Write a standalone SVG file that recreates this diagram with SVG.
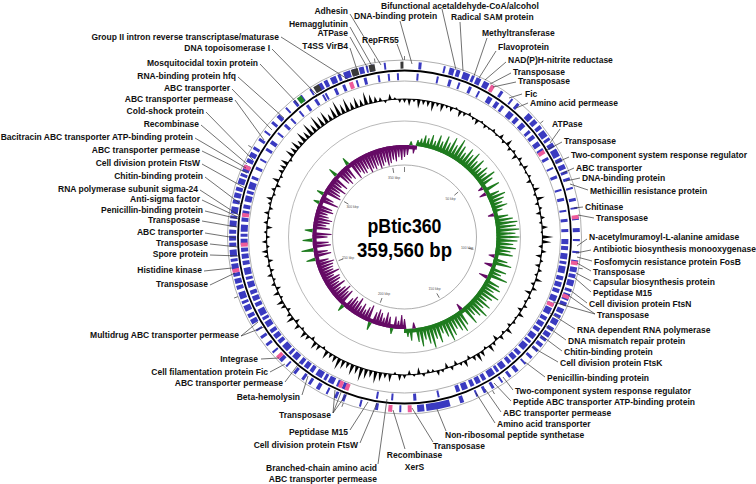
<svg xmlns="http://www.w3.org/2000/svg" width="756" height="484" viewBox="0 0 756 484">
<style>
text{font-family:"Liberation Sans",Arial,sans-serif;font-weight:700;font-size:8.5px;fill:#111}
.e{text-anchor:end}
.m{text-anchor:middle}
#connectors path{stroke:#333;stroke-width:.7;fill:none}
.gr{fill:none;stroke-width:7}
.ti{stroke:#444;stroke-width:.7;fill:none}
.rl{font-size:3.4px;font-weight:400;fill:#555;text-anchor:middle}
.ct{font-size:20px;text-anchor:middle;fill:#000}
</style>
<rect width="756" height="484" fill="#fff"/>
<g id="map" transform="translate(404.5 237)">
<circle r="177" fill="none" stroke="#999" stroke-width=".8"/>
<circle r="156" fill="none" stroke="#999" stroke-width=".8"/>
<circle class="gr" r="171.887" transform="rotate(-90)" stroke="#3a3ac0" stroke-dasharray="0 14 3 22 2 4 5 2 4 3 7 2 3 2 5 3 6 3 2 8 3 10 2 5 3 12 6 2 5 3 4 2 7 2 3 3 5 2 8 2 4 3 5 2 3 4 3 7 2 9 3 6 2 8 3 8 4 7 2 10 2 7 3 4 5 2 4 2 6 3 3 2 7 2 4 3 5 2 3 2 6 3 4 2 5 2 3 3 4 3 3 6 3 6 2 8 4 5 3 7 2 8 3 6 3 6 2 13 4 10 24 2 5 0 2 16 2 21 3 14 2 15 3 5 3 7 2 7 4 6 3 5 3 7 3 8 2 5 4 8 2 7 3 6 3 6 2 6 5 2 4 3 6 2 3 2 7 3 4 2 5 2 4 3 6 2 3 2 7 3 4 2 5 2 4 3 6 2 3 2 7 3 4 2 5 2 4 3 6 2 3 2 7 3 4 2 5 3 3 7 3 7 2 9 3 5 4 8 2 8 3 6 2 9 2 7 5 2 4 3 6 2 3 3 7 2 4 3 5 2 2 2 4 1 0 9 2 19"/>
<circle class="gr" r="160.428" transform="rotate(-90)" stroke="#3a3ac0" stroke-dasharray="0 12 2 18 2 10 3 7 2 9 3 7 2 9 5 4 4 3 3 6 6 3 4 4 5 5 3 3 4 4 5 3 3 7 3 8 2 7 3 11 2 7 3 9 2 7 3 7 3 7 5 2 4 3 6 2 3 2 7 3 4 2 5 2 4 3 6 2 3 2 7 3 4 2 5 2 4 3 6 2 3 2 7 3 4 2 5 2 4 3 6 2 3 2 7 3 4 2 5 2 4 3 6 2 2 0 2 17 2 21 3 20 2 13 2 30 5 2 4 3 6 2 3 2 7 3 4 2 5 2 4 3 6 2 3 2 7 3 4 2 5 2 4 3 6 2 3 2 7 3 4 2 5 2 4 3 6 2 3 2 7 3 4 2 5 2 4 3 6 2 3 2 7 3 4 2 5 2 4 3 6 2 3 2 7 3 3 7 3 7 2 9 3 5 4 8 2 8 3 6 2 9 2 7 3 7 3 6 2 1 2 8 3 6 3 11 2 6 3 11 2 8 2 7 2 8"/>
<circle class="gr" r="171.887" transform="rotate(-90)" stroke="#ee5b9a" stroke-dasharray="0 89 4 155 4 42 4 30.5 4 200 4 15.5 4 121 4 93 4 101 4 197"/>
<circle class="gr" r="160.428" transform="rotate(-90)" stroke="#ee5b9a" stroke-dasharray="0 162 4 153 4 237 4 3 4 175 4 25.6 4 172.4 4 52"/>
<circle class="gr" r="171.887" transform="rotate(-90)" stroke="#3a3a3a" stroke-dasharray="0 985.5 6 34.5 7 11 6 25.5 3 1.5"/>
<circle class="gr" r="171.887" transform="rotate(-90)" stroke="#1e8a2a" stroke-dasharray="0 966 5 109"/>
<circle r="166.5" fill="none" stroke="#000" stroke-width="1.8"/>
<path class="ti" d="M0-177v-4"/><path class="ti" d="M0-177v-4" transform="rotate(50.06)"/><path class="ti" d="M0-177v-4" transform="rotate(100.12)"/><path class="ti" d="M0-177v-4" transform="rotate(150.18)"/><path class="ti" d="M0-177v-4" transform="rotate(200.24)"/><path class="ti" d="M0-177v-4" transform="rotate(250.3)"/><path class="ti" d="M0-177v-4" transform="rotate(300.37)"/><path class="ti" d="M0-177v-4" transform="rotate(350.43)"/>
<circle r="138" fill="none" stroke="#000" stroke-width="1.1"/>
<g id="gc" fill="#000">
<path d="M-1.8-138L0-134 1.8-138z"/>
<path transform="rotate(2)" d="M-1.8-138L0-131 1.8-138z"/>
<path transform="rotate(4)" d="M-1.8-138L0-135 1.8-138z"/>
<path transform="rotate(6)" d="M-1.8-138L0-129 1.8-138z"/>
<path transform="rotate(8)" d="M-1.8-138L0-133 1.8-138z"/>
<path transform="rotate(10)" d="M-1.8-138L0-132 1.8-138z"/>
<path transform="rotate(12)" d="M-1.8-138L0-128 1.8-138z"/>
<path transform="rotate(14)" d="M-1.8-138L0-134 1.8-138z"/>
<path transform="rotate(16)" d="M-1.8-138L0-130 1.8-138z"/>
<path transform="rotate(18)" d="M-1.8-138L0-135 1.8-138z"/>
<path transform="rotate(20)" d="M-1.8-138L0-133 1.8-138z"/>
<path transform="rotate(22)" d="M-1.8-138L0-140 1.8-138z"/>
<path transform="rotate(24)" d="M-1.8-138L0-131 1.8-138z"/>
<path transform="rotate(26)" d="M-1.8-138L0-134 1.8-138z"/>
<path transform="rotate(28)" d="M-1.8-138L0-141 1.8-138z"/>
<path transform="rotate(30)" d="M-1.8-138L0-135 1.8-138z"/>
<path transform="rotate(32)" d="M-1.8-138L0-132 1.8-138z"/>
<path transform="rotate(34)" d="M-1.8-138L0-140 1.8-138z"/>
<path transform="rotate(36)" d="M-1.8-138L0-134 1.8-138z"/>
<path transform="rotate(38)" d="M-1.8-138L0-136 1.8-138z"/>
<path transform="rotate(40)" d="M-1.8-138L0-141 1.8-138z"/>
<path transform="rotate(42)" d="M-1.8-138L0-136 1.8-138z"/>
<path transform="rotate(44)" d="M-1.8-138L0-143 1.8-138z"/>
<path transform="rotate(46)" d="M-1.8-138L0-135 1.8-138z"/>
<path transform="rotate(48)" d="M-1.8-138L0-145 1.8-138z"/>
<path transform="rotate(50)" d="M-1.8-138L0-134 1.8-138z"/>
<path transform="rotate(52)" d="M-1.8-138L0-141 1.8-138z"/>
<path transform="rotate(54)" d="M-1.8-138L0-132 1.8-138z"/>
<path transform="rotate(56)" d="M-1.8-138L0-142 1.8-138z"/>
<path transform="rotate(58)" d="M-1.8-138L0-135 1.8-138z"/>
<path transform="rotate(60)" d="M-1.8-138L0-143 1.8-138z"/>
<path transform="rotate(62)" d="M-1.8-138L0-136 1.8-138z"/>
<path transform="rotate(64)" d="M-1.8-138L0-141 1.8-138z"/>
<path transform="rotate(66)" d="M-1.8-138L0-133 1.8-138z"/>
<path transform="rotate(68)" d="M-1.8-138L0-140 1.8-138z"/>
<path transform="rotate(70)" d="M-1.8-138L0-144 1.8-138z"/>
<path transform="rotate(72)" d="M-1.8-138L0-135 1.8-138z"/>
<path transform="rotate(74)" d="M-1.8-138L0-146 1.8-138z"/>
<path transform="rotate(76)" d="M-1.8-138L0-134 1.8-138z"/>
<path transform="rotate(78)" d="M-1.8-138L0-141 1.8-138z"/>
<path transform="rotate(80)" d="M-1.8-138L0-133 1.8-138z"/>
<path transform="rotate(82)" d="M-1.8-138L0-142 1.8-138z"/>
<path transform="rotate(84)" d="M-1.8-138L0-135 1.8-138z"/>
<path transform="rotate(86)" d="M-1.8-138L0-144 1.8-138z"/>
<path transform="rotate(88)" d="M-1.8-138L0-136 1.8-138z"/>
<path transform="rotate(90)" d="M-1.8-138L0-149 1.8-138z"/>
<path transform="rotate(92)" d="M-1.8-138L0-147 1.8-138z"/>
<path transform="rotate(94)" d="M-1.8-138L0-134 1.8-138z"/>
<path transform="rotate(96)" d="M-1.8-138L0-143 1.8-138z"/>
<path transform="rotate(98)" d="M-1.8-138L0-132 1.8-138z"/>
<path transform="rotate(100)" d="M-1.8-138L0-141 1.8-138z"/>
<path transform="rotate(102)" d="M-1.8-138L0-133 1.8-138z"/>
<path transform="rotate(104)" d="M-1.8-138L0-142 1.8-138z"/>
<path transform="rotate(106)" d="M-1.8-138L0-135 1.8-138z"/>
<path transform="rotate(108)" d="M-1.8-138L0-145 1.8-138z"/>
<path transform="rotate(110)" d="M-1.8-138L0-134 1.8-138z"/>
<path transform="rotate(112)" d="M-1.8-138L0-143 1.8-138z"/>
<path transform="rotate(114)" d="M-1.8-138L0-131 1.8-138z"/>
<path transform="rotate(116)" d="M-1.8-138L0-141 1.8-138z"/>
<path transform="rotate(118)" d="M-1.8-138L0-135 1.8-138z"/>
<path transform="rotate(120)" d="M-1.8-138L0-142 1.8-138z"/>
<path transform="rotate(122)" d="M-1.8-138L0-133 1.8-138z"/>
<path transform="rotate(124)" d="M-1.8-138L0-144 1.8-138z"/>
<path transform="rotate(126)" d="M-1.8-138L0-136 1.8-138z"/>
<path transform="rotate(128)" d="M-1.8-138L0-141 1.8-138z"/>
<path transform="rotate(130)" d="M-1.8-138L0-134 1.8-138z"/>
<path transform="rotate(132)" d="M-1.8-138L0-145 1.8-138z"/>
<path transform="rotate(134)" d="M-1.8-138L0-135 1.8-138z"/>
<path transform="rotate(136)" d="M-1.8-138L0-143 1.8-138z"/>
<path transform="rotate(138)" d="M-1.8-138L0-132 1.8-138z"/>
<path transform="rotate(140)" d="M-1.8-138L0-142 1.8-138z"/>
<path transform="rotate(142)" d="M-1.8-138L0-146 1.8-138z"/>
<path transform="rotate(144)" d="M-1.8-138L0-135 1.8-138z"/>
<path transform="rotate(146)" d="M-1.8-138L0-144 1.8-138z"/>
<path transform="rotate(148)" d="M-1.8-138L0-147 1.8-138z"/>
<path transform="rotate(150)" d="M-1.8-138L0-143 1.8-138z"/>
<path transform="rotate(152)" d="M-1.8-138L0-134 1.8-138z"/>
<path transform="rotate(154)" d="M-1.8-138L0-145 1.8-138z"/>
<path transform="rotate(156)" d="M-1.8-138L0-141 1.8-138z"/>
<path transform="rotate(158)" d="M-1.8-138L0-133 1.8-138z"/>
<path transform="rotate(160)" d="M-1.8-138L0-142 1.8-138z"/>
<path transform="rotate(162)" d="M-1.8-138L0-132 1.8-138z"/>
<path transform="rotate(164)" d="M-1.8-138L0-141 1.8-138z"/>
<path transform="rotate(166)" d="M-1.8-138L0-143 1.8-138z"/>
<path transform="rotate(168)" d="M-1.8-138L0-135 1.8-138z"/>
<path transform="rotate(170)" d="M-1.8-138L0-134 1.8-138z"/>
<path transform="rotate(172)" d="M-1.8-138L0-141 1.8-138z"/>
<path transform="rotate(174)" d="M-1.8-138L0-131 1.8-138z"/>
<path transform="rotate(176)" d="M-1.8-138L0-140 1.8-138z"/>
<path transform="rotate(178)" d="M-1.8-138L0-133 1.8-138z"/>
<path transform="rotate(180)" d="M-1.8-138L0-142 1.8-138z"/>
<path transform="rotate(182)" d="M-1.8-138L0-144 1.8-138z"/>
<path transform="rotate(184)" d="M-1.8-138L0-135 1.8-138z"/>
<path transform="rotate(186)" d="M-1.8-138L0-146 1.8-138z"/>
<path transform="rotate(188)" d="M-1.8-138L0-143 1.8-138z"/>
<path transform="rotate(190)" d="M-1.8-138L0-147 1.8-138z"/>
<path transform="rotate(192)" d="M-1.8-138L0-150 1.8-138z"/>
<path transform="rotate(194)" d="M-1.8-138L0-145 1.8-138z"/>
<path transform="rotate(196)" d="M-1.8-138L0-148 1.8-138z"/>
<path transform="rotate(198)" d="M-1.8-138L0-152 1.8-138z"/>
<path transform="rotate(200)" d="M-1.8-138L0-146 1.8-138z"/>
<path transform="rotate(202)" d="M-1.8-138L0-149 1.8-138z"/>
<path transform="rotate(204)" d="M-1.8-138L0-144 1.8-138z"/>
<path transform="rotate(206)" d="M-1.8-138L0-147 1.8-138z"/>
<path transform="rotate(208)" d="M-1.8-138L0-150 1.8-138z"/>
<path transform="rotate(210)" d="M-1.8-138L0-145 1.8-138z"/>
<path transform="rotate(212)" d="M-1.8-138L0-143 1.8-138z"/>
<path transform="rotate(214)" d="M-1.8-138L0-147 1.8-138z"/>
<path transform="rotate(216)" d="M-1.8-138L0-135 1.8-138z"/>
<path transform="rotate(218)" d="M-1.8-138L0-144 1.8-138z"/>
<path transform="rotate(220)" d="M-1.8-138L0-146 1.8-138z"/>
<path transform="rotate(222)" d="M-1.8-138L0-134 1.8-138z"/>
<path transform="rotate(224)" d="M-1.8-138L0-143 1.8-138z"/>
<path transform="rotate(226)" d="M-1.8-138L0-145 1.8-138z"/>
<path transform="rotate(228)" d="M-1.8-138L0-135 1.8-138z"/>
<path transform="rotate(230)" d="M-1.8-138L0-144 1.8-138z"/>
<path transform="rotate(232)" d="M-1.8-138L0-133 1.8-138z"/>
<path transform="rotate(234)" d="M-1.8-138L0-146 1.8-138z"/>
<path transform="rotate(236)" d="M-1.8-138L0-142 1.8-138z"/>
<path transform="rotate(238)" d="M-1.8-138L0-134 1.8-138z"/>
<path transform="rotate(240)" d="M-1.8-138L0-143 1.8-138z"/>
<path transform="rotate(242)" d="M-1.8-138L0-145 1.8-138z"/>
<path transform="rotate(244)" d="M-1.8-138L0-135 1.8-138z"/>
<path transform="rotate(246)" d="M-1.8-138L0-144 1.8-138z"/>
<path transform="rotate(248)" d="M-1.8-138L0-133 1.8-138z"/>
<path transform="rotate(250)" d="M-1.8-138L0-142 1.8-138z"/>
<path transform="rotate(252)" d="M-1.8-138L0-135 1.8-138z"/>
<path transform="rotate(254)" d="M-1.8-138L0-143 1.8-138z"/>
<path transform="rotate(256)" d="M-1.8-138L0-134 1.8-138z"/>
<path transform="rotate(258)" d="M-1.8-138L0-141 1.8-138z"/>
<path transform="rotate(260)" d="M-1.8-138L0-133 1.8-138z"/>
<path transform="rotate(262)" d="M-1.8-138L0-142 1.8-138z"/>
<path transform="rotate(264)" d="M-1.8-138L0-144 1.8-138z"/>
<path transform="rotate(266)" d="M-1.8-138L0-135 1.8-138z"/>
<path transform="rotate(268)" d="M-1.8-138L0-143 1.8-138z"/>
<path transform="rotate(270)" d="M-1.8-138L0-134 1.8-138z"/>
<path transform="rotate(272)" d="M-1.8-138L0-141 1.8-138z"/>
<path transform="rotate(274)" d="M-1.8-138L0-132 1.8-138z"/>
<path transform="rotate(276)" d="M-1.8-138L0-142 1.8-138z"/>
<path transform="rotate(278)" d="M-1.8-138L0-135 1.8-138z"/>
<path transform="rotate(280)" d="M-1.8-138L0-143 1.8-138z"/>
<path transform="rotate(282)" d="M-1.8-138L0-134 1.8-138z"/>
<path transform="rotate(284)" d="M-1.8-138L0-141 1.8-138z"/>
<path transform="rotate(286)" d="M-1.8-138L0-144 1.8-138z"/>
<path transform="rotate(288)" d="M-1.8-138L0-135 1.8-138z"/>
<path transform="rotate(290)" d="M-1.8-138L0-142 1.8-138z"/>
<path transform="rotate(292)" d="M-1.8-138L0-133 1.8-138z"/>
<path transform="rotate(294)" d="M-1.8-138L0-145 1.8-138z"/>
<path transform="rotate(296)" d="M-1.8-138L0-135 1.8-138z"/>
<path transform="rotate(298)" d="M-1.8-138L0-143 1.8-138z"/>
<path transform="rotate(300)" d="M-1.8-138L0-144 1.8-138z"/>
<path transform="rotate(302)" d="M-1.8-138L0-146 1.8-138z"/>
<path transform="rotate(304)" d="M-1.8-138L0-135 1.8-138z"/>
<path transform="rotate(306)" d="M-1.8-138L0-147 1.8-138z"/>
<path transform="rotate(308)" d="M-1.8-138L0-145 1.8-138z"/>
<path transform="rotate(310)" d="M-1.8-138L0-148 1.8-138z"/>
<path transform="rotate(312)" d="M-1.8-138L0-144 1.8-138z"/>
<path transform="rotate(314)" d="M-1.8-138L0-150 1.8-138z"/>
<path transform="rotate(316)" d="M-1.8-138L0-146 1.8-138z"/>
<path transform="rotate(318)" d="M-1.8-138L0-152 1.8-138z"/>
<path transform="rotate(320)" d="M-1.8-138L0-147 1.8-138z"/>
<path transform="rotate(322)" d="M-1.8-138L0-153 1.8-138z"/>
<path transform="rotate(324)" d="M-1.8-138L0-149 1.8-138z"/>
<path transform="rotate(326)" d="M-1.8-138L0-151 1.8-138z"/>
<path transform="rotate(328)" d="M-1.8-138L0-145 1.8-138z"/>
<path transform="rotate(330)" d="M-1.8-138L0-150 1.8-138z"/>
<path transform="rotate(332)" d="M-1.8-138L0-154 1.8-138z"/>
<path transform="rotate(334)" d="M-1.8-138L0-148 1.8-138z"/>
<path transform="rotate(336)" d="M-1.8-138L0-152 1.8-138z"/>
<path transform="rotate(338)" d="M-1.8-138L0-146 1.8-138z"/>
<path transform="rotate(340)" d="M-1.8-138L0-149 1.8-138z"/>
<path transform="rotate(342)" d="M-1.8-138L0-145 1.8-138z"/>
<path transform="rotate(344)" d="M-1.8-138L0-151 1.8-138z"/>
<path transform="rotate(346)" d="M-1.8-138L0-147 1.8-138z"/>
<path transform="rotate(348)" d="M-1.8-138L0-144 1.8-138z"/>
<path transform="rotate(350)" d="M-1.8-138L0-142 1.8-138z"/>
<path transform="rotate(352)" d="M-1.8-138L0-135 1.8-138z"/>
<path transform="rotate(354)" d="M-1.8-138L0-144 1.8-138z"/>
<path transform="rotate(356)" d="M-1.8-138L0-140 1.8-138z"/>
<path transform="rotate(358)" d="M-1.8-138L0-134 1.8-138z"/>
</g>
<circle r="116" fill="none" stroke="#999" stroke-width=".7"/>
<circle r="94" fill="none" stroke="#1e7b1e" stroke-width="4" transform="rotate(-90)" stroke-dasharray="0 13.12 282.2 295.3"/>
<circle r="90" fill="none" stroke="#650a65" stroke-width="4" transform="rotate(-90)" stroke-dasharray="12.57 270.2 282.74 0"/>
<g id="skew-pos" fill="#1e7b1e">
<path transform="rotate(4)" d="M-1.9-92L-.5-96H.5L1.9-92z"/>
<path transform="rotate(8)" d="M-1.9-92L-.5-98H.5L1.9-92z"/>
<path transform="rotate(10)" d="M-1.9-92L-.5-100H.5L1.9-92z"/>
<path transform="rotate(12)" d="M-1.9-92L-.5-104H.5L1.9-92z"/>
<path transform="rotate(14)" d="M-1.9-92L-.5-102H.5L1.9-92z"/>
<path transform="rotate(16)" d="M-1.9-92L-.5-106H.5L1.9-92z"/>
<path transform="rotate(18)" d="M-1.9-92L-.5-101H.5L1.9-92z"/>
<path transform="rotate(20)" d="M-1.9-92L-.5-108H.5L1.9-92z"/>
<path transform="rotate(22)" d="M-1.9-92L-.5-103H.5L1.9-92z"/>
<path transform="rotate(24)" d="M-1.9-92L-.5-110H.5L1.9-92z"/>
<path transform="rotate(26)" d="M-1.9-92L-.5-105H.5L1.9-92z"/>
<path transform="rotate(28)" d="M-1.9-92L-.5-112H.5L1.9-92z"/>
<path transform="rotate(30)" d="M-1.9-92L-.5-106H.5L1.9-92z"/>
<path transform="rotate(32)" d="M-1.9-92L-.5-114H.5L1.9-92z"/>
<path transform="rotate(34)" d="M-1.9-92L-.5-109H.5L1.9-92z"/>
<path transform="rotate(36)" d="M-1.9-92L-.5-104H.5L1.9-92z"/>
<path transform="rotate(38)" d="M-1.9-92L-.5-111H.5L1.9-92z"/>
<path transform="rotate(40)" d="M-1.9-92L-.5-107H.5L1.9-92z"/>
<path transform="rotate(42)" d="M-1.9-92L-.5-112H.5L1.9-92z"/>
<path transform="rotate(44)" d="M-1.9-92L-.5-105H.5L1.9-92z"/>
<path transform="rotate(46)" d="M-1.9-92L-.5-110H.5L1.9-92z"/>
<path transform="rotate(48)" d="M-1.9-92L-.5-103H.5L1.9-92z"/>
<path transform="rotate(50)" d="M-1.9-92L-.5-108H.5L1.9-92z"/>
<path transform="rotate(52)" d="M-1.9-92L-.5-104H.5L1.9-92z"/>
<path transform="rotate(54)" d="M-1.9-92L-.5-111H.5L1.9-92z"/>
<path transform="rotate(56)" d="M-1.9-92L-.5-106H.5L1.9-92z"/>
<path transform="rotate(60)" d="M-1.9-92L-.5-109H.5L1.9-92z"/>
<path transform="rotate(64)" d="M-1.9-92L-.5-105H.5L1.9-92z"/>
<path transform="rotate(66)" d="M-1.9-92L-.5-110H.5L1.9-92z"/>
<path transform="rotate(68)" d="M-1.9-92L-.5-107H.5L1.9-92z"/>
<path transform="rotate(70)" d="M-1.9-92L-.5-104H.5L1.9-92z"/>
<path transform="rotate(72)" d="M-1.9-92L-.5-108H.5L1.9-92z"/>
<path transform="rotate(74)" d="M-1.9-92L-.5-102H.5L1.9-92z"/>
<path transform="rotate(78)" d="M-1.9-92L-.5-106H.5L1.9-92z"/>
<path transform="rotate(80)" d="M-1.9-92L-.5-110H.5L1.9-92z"/>
<path transform="rotate(82)" d="M-1.9-92L-.5-114H.5L1.9-92z"/>
<path transform="rotate(84)" d="M-1.9-92L-.5-112H.5L1.9-92z"/>
<path transform="rotate(86)" d="M-1.9-92L-.5-115H.5L1.9-92z"/>
<path transform="rotate(88)" d="M-1.9-92L-.5-111H.5L1.9-92z"/>
<path transform="rotate(90)" d="M-1.9-92L-.5-115H.5L1.9-92z"/>
<path transform="rotate(92)" d="M-1.9-92L-.5-113H.5L1.9-92z"/>
<path transform="rotate(94)" d="M-1.9-92L-.5-109H.5L1.9-92z"/>
<path transform="rotate(96)" d="M-1.9-92L-.5-112H.5L1.9-92z"/>
<path transform="rotate(98)" d="M-1.9-92L-.5-107H.5L1.9-92z"/>
<path transform="rotate(100)" d="M-1.9-92L-.5-110H.5L1.9-92z"/>
<path transform="rotate(104)" d="M-1.9-92L-.5-106H.5L1.9-92z"/>
<path transform="rotate(106)" d="M-1.9-92L-.5-111H.5L1.9-92z"/>
<path transform="rotate(110)" d="M-1.9-92L-.5-108H.5L1.9-92z"/>
<path transform="rotate(112)" d="M-1.9-92L-.5-104H.5L1.9-92z"/>
<path transform="rotate(114)" d="M-1.9-92L-.5-112H.5L1.9-92z"/>
<path transform="rotate(118)" d="M-1.9-92L-.5-107H.5L1.9-92z"/>
<path transform="rotate(120)" d="M-1.9-92L-.5-110H.5L1.9-92z"/>
<path transform="rotate(122)" d="M-1.9-92L-.5-105H.5L1.9-92z"/>
<path transform="rotate(124)" d="M-1.9-92L-.5-113H.5L1.9-92z"/>
<path transform="rotate(126)" d="M-1.9-92L-.5-108H.5L1.9-92z"/>
<path transform="rotate(128)" d="M-1.9-92L-.5-104H.5L1.9-92z"/>
<path transform="rotate(130)" d="M-1.9-92L-.5-111H.5L1.9-92z"/>
<path transform="rotate(132)" d="M-1.9-92L-.5-106H.5L1.9-92z"/>
<path transform="rotate(134)" d="M-1.9-92L-.5-114H.5L1.9-92z"/>
<path transform="rotate(136)" d="M-1.9-92L-.5-109H.5L1.9-92z"/>
<path transform="rotate(138)" d="M-1.9-92L-.5-105H.5L1.9-92z"/>
<path transform="rotate(140)" d="M-1.9-92L-.5-112H.5L1.9-92z"/>
<path transform="rotate(144)" d="M-1.9-92L-.5-108H.5L1.9-92z"/>
<path transform="rotate(146)" d="M-1.9-92L-.5-113H.5L1.9-92z"/>
<path transform="rotate(148)" d="M-1.9-92L-.5-110H.5L1.9-92z"/>
<path transform="rotate(150)" d="M-1.9-92L-.5-106H.5L1.9-92z"/>
<path transform="rotate(152)" d="M-1.9-92L-.5-111H.5L1.9-92z"/>
<path transform="rotate(154)" d="M-1.9-92L-.5-115H.5L1.9-92z"/>
<path transform="rotate(156)" d="M-1.9-92L-.5-109H.5L1.9-92z"/>
<path transform="rotate(158)" d="M-1.9-92L-.5-104H.5L1.9-92z"/>
<path transform="rotate(160)" d="M-1.9-92L-.5-112H.5L1.9-92z"/>
<path transform="rotate(162)" d="M-1.9-92L-.5-107H.5L1.9-92z"/>
<path transform="rotate(164)" d="M-1.9-92L-.5-115H.5L1.9-92z"/>
<path transform="rotate(166)" d="M-1.9-92L-.5-110H.5L1.9-92z"/>
<path transform="rotate(168)" d="M-1.9-92L-.5-105H.5L1.9-92z"/>
<path transform="rotate(170)" d="M-1.9-92L-.5-111H.5L1.9-92z"/>
<path transform="rotate(172)" d="M-1.9-92L-.5-106H.5L1.9-92z"/>
<path transform="rotate(176)" d="M-1.9-92L-.5-104H.5L1.9-92z"/>
<path transform="rotate(178)" d="M-1.9-92L-.5-100H.5L1.9-92z"/>
<path transform="rotate(188)" d="M-1.9-92L-.5-98H.5L1.9-92z"/>
<path transform="rotate(202)" d="M-1.9-92L-.5-100H.5L1.9-92z"/>
<path transform="rotate(222)" d="M-1.9-92L-.5-99H.5L1.9-92z"/>
<path transform="rotate(256)" d="M-1.9-92L-.5-101H.5L1.9-92z"/>
<path transform="rotate(262)" d="M-1.9-92L-.5-104H.5L1.9-92z"/>
<path transform="rotate(268)" d="M-1.9-92L-.5-102H.5L1.9-92z"/>
<path transform="rotate(274)" d="M-1.9-92L-.5-100H.5L1.9-92z"/>
<path transform="rotate(292)" d="M-1.9-92L-.5-98H.5L1.9-92z"/>
<path transform="rotate(298)" d="M-1.9-92L-.5-99H.5L1.9-92z"/>
<path transform="rotate(312)" d="M-1.9-92L-.5-101H.5L1.9-92z"/>
<path transform="rotate(322)" d="M-1.9-92L-.5-100H.5L1.9-92z"/>
</g>
<g id="skew-neg" fill="#650a65">
<path d="M-1.9-92L-.5-80H.5L1.9-92z"/>
<path transform="rotate(2)" d="M-1.9-92L-.5-82H.5L1.9-92z"/>
<path transform="rotate(6)" d="M-1.9-92L-.5-84H.5L1.9-92z"/>
<path transform="rotate(58)" d="M-1.9-92L-.5-87H.5L1.9-92z"/>
<path transform="rotate(62)" d="M-1.9-92L-.5-85H.5L1.9-92z"/>
<path transform="rotate(76)" d="M-1.9-92L-.5-86H.5L1.9-92z"/>
<path transform="rotate(102)" d="M-1.9-92L-.5-86H.5L1.9-92z"/>
<path transform="rotate(108)" d="M-1.9-92L-.5-84H.5L1.9-92z"/>
<path transform="rotate(116)" d="M-1.9-92L-.5-83H.5L1.9-92z"/>
<path transform="rotate(142)" d="M-1.9-92L-.5-85H.5L1.9-92z"/>
<path transform="rotate(174)" d="M-1.9-92L-.5-86H.5L1.9-92z"/>
<path transform="rotate(180)" d="M-1.9-92L-.5-82H.5L1.9-92z"/>
<path transform="rotate(182)" d="M-1.9-92L-.5-78H.5L1.9-92z"/>
<path transform="rotate(184)" d="M-1.9-92L-.5-84H.5L1.9-92z"/>
<path transform="rotate(186)" d="M-1.9-92L-.5-80H.5L1.9-92z"/>
<path transform="rotate(190)" d="M-1.9-92L-.5-81H.5L1.9-92z"/>
<path transform="rotate(192)" d="M-1.9-92L-.5-77H.5L1.9-92z"/>
<path transform="rotate(194)" d="M-1.9-92L-.5-83H.5L1.9-92z"/>
<path transform="rotate(196)" d="M-1.9-92L-.5-79H.5L1.9-92z"/>
<path transform="rotate(198)" d="M-1.9-92L-.5-76H.5L1.9-92z"/>
<path transform="rotate(200)" d="M-1.9-92L-.5-80H.5L1.9-92z"/>
<path transform="rotate(204)" d="M-1.9-92L-.5-75H.5L1.9-92z"/>
<path transform="rotate(206)" d="M-1.9-92L-.5-78H.5L1.9-92z"/>
<path transform="rotate(208)" d="M-1.9-92L-.5-82H.5L1.9-92z"/>
<path transform="rotate(210)" d="M-1.9-92L-.5-77H.5L1.9-92z"/>
<path transform="rotate(212)" d="M-1.9-92L-.5-81H.5L1.9-92z"/>
<path transform="rotate(214)" d="M-1.9-92L-.5-74H.5L1.9-92z"/>
<path transform="rotate(216)" d="M-1.9-92L-.5-79H.5L1.9-92z"/>
<path transform="rotate(218)" d="M-1.9-92L-.5-76H.5L1.9-92z"/>
<path transform="rotate(220)" d="M-1.9-92L-.5-80H.5L1.9-92z"/>
<path transform="rotate(224)" d="M-1.9-92L-.5-75H.5L1.9-92z"/>
<path transform="rotate(226)" d="M-1.9-92L-.5-78H.5L1.9-92z"/>
<path transform="rotate(228)" d="M-1.9-92L-.5-73H.5L1.9-92z"/>
<path transform="rotate(230)" d="M-1.9-92L-.5-77H.5L1.9-92z"/>
<path transform="rotate(232)" d="M-1.9-92L-.5-81H.5L1.9-92z"/>
<path transform="rotate(234)" d="M-1.9-92L-.5-74H.5L1.9-92z"/>
<path transform="rotate(236)" d="M-1.9-92L-.5-79H.5L1.9-92z"/>
<path transform="rotate(238)" d="M-1.9-92L-.5-76H.5L1.9-92z"/>
<path transform="rotate(240)" d="M-1.9-92L-.5-75H.5L1.9-92z"/>
<path transform="rotate(242)" d="M-1.9-92L-.5-80H.5L1.9-92z"/>
<path transform="rotate(244)" d="M-1.9-92L-.5-73H.5L1.9-92z"/>
<path transform="rotate(246)" d="M-1.9-92L-.5-78H.5L1.9-92z"/>
<path transform="rotate(248)" d="M-1.9-92L-.5-77H.5L1.9-92z"/>
<path transform="rotate(250)" d="M-1.9-92L-.5-76H.5L1.9-92z"/>
<path transform="rotate(252)" d="M-1.9-92L-.5-74H.5L1.9-92z"/>
<path transform="rotate(254)" d="M-1.9-92L-.5-79H.5L1.9-92z"/>
<path transform="rotate(258)" d="M-1.9-92L-.5-75H.5L1.9-92z"/>
<path transform="rotate(260)" d="M-1.9-92L-.5-78H.5L1.9-92z"/>
<path transform="rotate(264)" d="M-1.9-92L-.5-74H.5L1.9-92z"/>
<path transform="rotate(266)" d="M-1.9-92L-.5-76H.5L1.9-92z"/>
<path transform="rotate(270)" d="M-1.9-92L-.5-77H.5L1.9-92z"/>
<path transform="rotate(272)" d="M-1.9-92L-.5-73H.5L1.9-92z"/>
<path transform="rotate(276)" d="M-1.9-92L-.5-75H.5L1.9-92z"/>
<path transform="rotate(278)" d="M-1.9-92L-.5-79H.5L1.9-92z"/>
<path transform="rotate(280)" d="M-1.9-92L-.5-76H.5L1.9-92z"/>
<path transform="rotate(282)" d="M-1.9-92L-.5-74H.5L1.9-92z"/>
<path transform="rotate(284)" d="M-1.9-92L-.5-78H.5L1.9-92z"/>
<path transform="rotate(286)" d="M-1.9-92L-.5-80H.5L1.9-92z"/>
<path transform="rotate(288)" d="M-1.9-92L-.5-75H.5L1.9-92z"/>
<path transform="rotate(290)" d="M-1.9-92L-.5-77H.5L1.9-92z"/>
<path transform="rotate(294)" d="M-1.9-92L-.5-73H.5L1.9-92z"/>
<path transform="rotate(296)" d="M-1.9-92L-.5-79H.5L1.9-92z"/>
<path transform="rotate(300)" d="M-1.9-92L-.5-74H.5L1.9-92z"/>
<path transform="rotate(302)" d="M-1.9-92L-.5-76H.5L1.9-92z"/>
<path transform="rotate(304)" d="M-1.9-92L-.5-78H.5L1.9-92z"/>
<path transform="rotate(306)" d="M-1.9-92L-.5-73H.5L1.9-92z"/>
<path transform="rotate(308)" d="M-1.9-92L-.5-80H.5L1.9-92z"/>
<path transform="rotate(310)" d="M-1.9-92L-.5-75H.5L1.9-92z"/>
<path transform="rotate(314)" d="M-1.9-92L-.5-77H.5L1.9-92z"/>
<path transform="rotate(316)" d="M-1.9-92L-.5-74H.5L1.9-92z"/>
<path transform="rotate(318)" d="M-1.9-92L-.5-79H.5L1.9-92z"/>
<path transform="rotate(320)" d="M-1.9-92L-.5-76H.5L1.9-92z"/>
<path transform="rotate(324)" d="M-1.9-92L-.5-73H.5L1.9-92z"/>
<path transform="rotate(326)" d="M-1.9-92L-.5-78H.5L1.9-92z"/>
<path transform="rotate(328)" d="M-1.9-92L-.5-75H.5L1.9-92z"/>
<path transform="rotate(330)" d="M-1.9-92L-.5-74H.5L1.9-92z"/>
<path transform="rotate(332)" d="M-1.9-92L-.5-77H.5L1.9-92z"/>
<path transform="rotate(334)" d="M-1.9-92L-.5-72H.5L1.9-92z"/>
<path transform="rotate(336)" d="M-1.9-92L-.5-75H.5L1.9-92z"/>
<path transform="rotate(338)" d="M-1.9-92L-.5-73H.5L1.9-92z"/>
<path transform="rotate(340)" d="M-1.9-92L-.5-76H.5L1.9-92z"/>
<path transform="rotate(342)" d="M-1.9-92L-.5-72H.5L1.9-92z"/>
<path transform="rotate(344)" d="M-1.9-92L-.5-74H.5L1.9-92z"/>
<path transform="rotate(346)" d="M-1.9-92L-.5-77H.5L1.9-92z"/>
<path transform="rotate(348)" d="M-1.9-92L-.5-73H.5L1.9-92z"/>
<path transform="rotate(350)" d="M-1.9-92L-.5-75H.5L1.9-92z"/>
<path transform="rotate(352)" d="M-1.9-92L-.5-78H.5L1.9-92z"/>
<path transform="rotate(354)" d="M-1.9-92L-.5-76H.5L1.9-92z"/>
<path transform="rotate(356)" d="M-1.9-92L-.5-80H.5L1.9-92z"/>
<path transform="rotate(358)" d="M-1.9-92L-.5-77H.5L1.9-92z"/>
</g>
<circle r="72" fill="none" stroke="#777" stroke-width=".6"/>
<path class="ti" d="M0-70v5"/><path class="ti" d="M0-70v5" transform="rotate(50.06)"/><path class="ti" d="M0-70v5" transform="rotate(100.12)"/><path class="ti" d="M0-70v5" transform="rotate(150.18)"/><path class="ti" d="M0-70v5" transform="rotate(200.24)"/><path class="ti" d="M0-70v5" transform="rotate(250.3)"/><path class="ti" d="M0-70v5" transform="rotate(300.37)"/><path class="ti" d="M0-70v5" transform="rotate(350.43)"/>
</g>
<g id="ruler-labels">
<text class="rl" x="450.5" y="199.6">50 kbp</text>
<text class="rl" x="467" y="248.6">100 kbp</text>
<text class="rl" x="434.5" y="290.2">150 kbp</text>
<text class="rl" x="384" y="294.6">200 kbp</text>
<text class="rl" x="348.1" y="258.7">250 kbp</text>
<text class="rl" x="352.5" y="208.2">300 kbp</text>
<text class="rl" x="394.1" y="179.1">350 kbp</text>
</g>
<g id="title">
<text class="ct" x="404.5" y="233" textLength="74" lengthAdjust="spacingAndGlyphs">pBtic360</text>
<text class="ct" x="404.5" y="257" textLength="95" lengthAdjust="spacingAndGlyphs">359,560 bp</text>
</g>
<g id="connectors">
<path d="M281 37L349 80"/>
<path d="M272 49L318 96"/>
<path d="M260 64L298 104"/>
<path d="M238 77L284 118"/>
<path d="M232 89L272 130"/>
<path d="M235 100L264 140"/>
<path d="M206 112L253 160"/>
<path d="M201 125L247 164"/>
<path d="M195 138L246 168"/>
<path d="M202 151L247 173"/>
<path d="M202 164L245 188"/>
<path d="M205 177L242 205"/>
<path d="M200 190L240 216"/>
<path d="M202 200L240 218"/>
<path d="M205 211L239 219"/>
<path d="M202 221L237 227"/>
<path d="M205 233L236 238"/>
<path d="M210 244L238 247"/>
<path d="M210 255L240 256"/>
<path d="M204 271L232 268"/>
<path d="M210 285L235 273"/>
<path d="M241 336L258 322M241 336L264 327"/>
<path d="M261 359L279 358"/>
<path d="M270 372L285 364"/>
<path d="M285 382L300 362"/>
<path d="M302 395L308 376"/>
<path d="M333 413L335 390M333 413L342 390M333 413L348 392"/>
<path d="M350 430L368 402"/>
<path d="M360 443L377 403"/>
<path d="M378 464L387 399"/>
<path d="M405 449L393 410"/>
<path d="M433 442L412 408"/>
<path d="M446 431L437 409"/>
<path d="M495 423L476 393"/>
<path d="M501 412L485 389"/>
<path d="M511 401L494 383"/>
<path d="M513 390L503 377"/>
<path d="M545 377L525 362"/>
<path d="M558 362L532 347"/>
<path d="M562 351L538 333"/>
<path d="M566 340L545 325"/>
<path d="M575 329L550 313"/>
<path d="M595 314L568 295M595 314L553 302"/>
<path d="M587 303L570 290"/>
<path d="M591 292L575 278"/>
<path d="M591 281L576 273"/>
<path d="M591 271L577 263"/>
<path d="M592 261L577 257"/>
<path d="M591 250L576 253"/>
<path d="M587 239L577 246"/>
<path d="M594 218L578 215"/>
<path d="M583 207L574 208"/>
<path d="M588 190L570 184"/>
<path d="M580 178L566 181"/>
<path d="M574 168L563 173"/>
<path d="M569 157L553 164"/>
<path d="M562 142L545 151"/>
<path d="M560 129L550 143"/>
<path d="M528 103L516 108"/>
<path d="M522 94L509 98"/>
<path d="M516 82L493 87"/>
<path d="M511 73L490 84"/>
<path d="M506 62L485 80"/>
<path d="M496 51L479 78"/>
<path d="M487 38L474 76"/>
<path d="M460 22L463 71"/>
<path d="M442 9L456 70"/>
<path d="M400 21L412 64"/>
<path d="M350 14L381 65"/>
<path d="M350 27L372 66"/>
<path d="M350 37L367 67"/>
<path d="M350 48L357 70"/>
<path d="M397 44L403 60"/>
</g>
<g id="labels">
<text id="n1" class="e" x="279" y="40">Group II intron reverse transcriptase/maturase</text>
<text id="n2" class="e" x="270" y="51">DNA topoisomerase I</text>
<text id="n3" class="e" x="258" y="66">Mosquitocidal toxin protein</text>
<text id="n4" class="e" x="236" y="79">RNA-binding protein hfq</text>
<text id="n5" class="e" x="230" y="91">ABC transporter</text>
<text id="n6" class="e" x="233" y="102">ABC transporter permease</text>
<text id="n7" class="e" x="204" y="114">Cold-shock protein</text>
<text id="n8" class="e" x="199" y="127">Recombinase</text>
<text id="n9" class="e" x="193" y="140">Bacitracin ABC transporter ATP-binding protein</text>
<text id="n10" class="e" x="200" y="153">ABC transporter permease</text>
<text id="n11" class="e" x="200" y="166">Cell division protein FtsW</text>
<text id="n12" class="e" x="203" y="179">Chitin-binding protein</text>
<text id="n13" class="e" x="198" y="192">RNA polymerase subunit sigma-24</text>
<text id="n14" class="e" x="200" y="202">Anti-sigma factor</text>
<text id="n15" class="e" x="203" y="213">Penicillin-binding protein</text>
<text id="n16" class="e" x="200" y="223">Transposase</text>
<text id="n17" class="e" x="203" y="235">ABC transporter</text>
<text id="n18" class="e" x="208" y="246">Transposase</text>
<text id="n19" class="e" x="208" y="257">Spore protein</text>
<text id="n20" class="e" x="202" y="273">Histidine kinase</text>
<text id="n21" class="e" x="208" y="287">Transposase</text>
<text id="n22" class="e" x="239" y="338">Multidrug ABC transporter permease</text>
<text id="n23" class="e" x="258" y="362">Integrase</text>
<text id="n24" class="e" x="268" y="375">Cell filamentation protein Fic</text>
<text id="n25" class="e" x="283" y="386">ABC transporter permease</text>
<text id="n26" class="e" x="300" y="400">Beta-hemolysin</text>
<text id="n27" class="e" x="331" y="418">Transposase</text>
<text id="n28" class="e" x="348" y="435">Peptidase M15</text>
<text id="n29" class="e" x="358" y="448">Cell division protein FtsW</text>
<text id="n30" class="e" x="377" y="471">Branched-chain amino acid<tspan x="377" y="482">ABC transporter permease</tspan></text>
<text id="n31" class="m" x="414.5" y="458">Recombinase<tspan x="414.5" y="470">XerS</tspan></text>
<text id="n32" x="433" y="449">Transposase</text>
<text id="n33" x="445" y="438">Non-ribosomal peptide synthetase</text>
<text id="n34" x="497" y="427">Amino acid transporter</text>
<text id="n35" x="503" y="416">ABC transporter permease</text>
<text id="n36" x="513" y="405">Peptide ABC transporter ATP-binding protein</text>
<text id="n37" x="515" y="394">Two-component system response regulator</text>
<text id="n38" x="547" y="381">Penicillin-binding protein</text>
<text id="n39" x="560" y="366">Cell division protein FtsK</text>
<text id="n40" x="564" y="355">Chitin-binding protein</text>
<text id="n41" x="568" y="344">DNA mismatch repair protein</text>
<text id="n42" x="577" y="333">RNA dependent RNA polymerase</text>
<text id="n43" x="597" y="318">Transposase</text>
<text id="n44" x="589" y="307">Cell division protein FtsN</text>
<text id="n45" x="593" y="296">Peptidase M15</text>
<text id="n46" x="593" y="285">Capsular biosynthesis protein</text>
<text id="n47" x="593" y="275">Transposase</text>
<text id="n48" x="594" y="265">Fosfomycin resistance protein FosB</text>
<text id="n49" x="593" y="252">Antibiotic biosynthesis monooxygenase</text>
<text id="n50" x="589" y="240">N-acetylmuramoyl-L-alanine amidase</text>
<text id="n51" x="596" y="221">Transposase</text>
<text id="n52" x="585" y="210">Chitinase</text>
<text id="n53" x="590" y="194">Methicillin resistance protein</text>
<text id="n54" x="582" y="181">DNA-binding protein</text>
<text id="n55" x="576" y="171">ABC transporter</text>
<text id="n56" x="571" y="158">Two-component system response regulator</text>
<text id="n57" x="564" y="144">Transposase</text>
<text id="n58" x="552" y="127">ATPase</text>
<text id="n59" x="530" y="106">Amino acid permease</text>
<text id="n60" x="525" y="97">Fic</text>
<text id="n61" x="518" y="84">Transposase</text>
<text id="n62" x="513" y="75">Transposase</text>
<text id="n63" x="508" y="63">NAD(P)H-nitrite reductase</text>
<text id="n64" x="498" y="50">Flavoprotein</text>
<text id="n65" x="482" y="36">Methyltransferase</text>
<text id="n66" x="451" y="20">Radical SAM protein</text>
<text id="n67" x="381" y="8.5">Bifunctional acetaldehyde-CoA/alcohol</text>
<text id="n68" x="354" y="19">DNA-binding protein</text>
<text id="n69" class="e" x="348" y="14">Adhesin</text>
<text id="n70" class="e" x="348" y="27">Hemagglutinin</text>
<text id="n71" class="e" x="348" y="36">ATPase</text>
<text id="n72" class="e" x="348" y="49">T4SS VirB4</text>
<text id="n73" x="362" y="43">RepFR55</text>
</g>
</svg>
